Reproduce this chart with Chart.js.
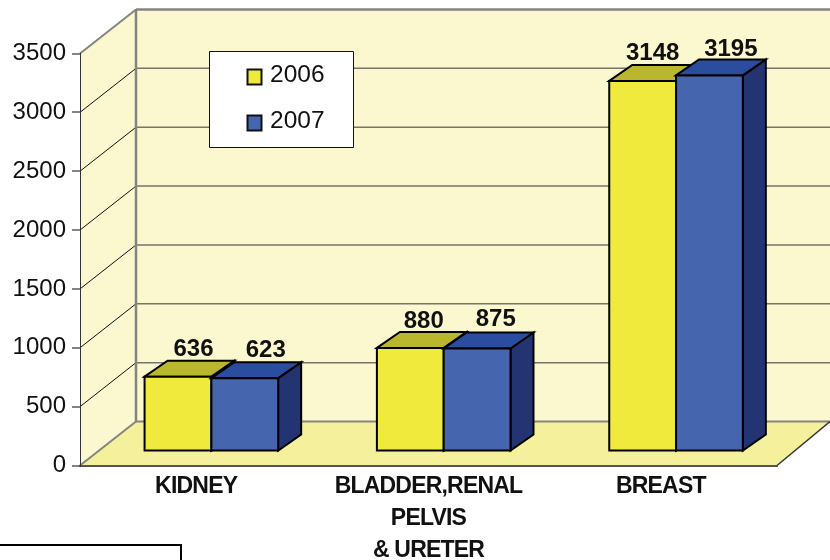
<!DOCTYPE html>
<html>
<head>
<meta charset="utf-8">
<title>Chart</title>
<style>
    html, body { margin: 0; padding: 0; background: #fff; }
    canvas { display: block; }
</style>
<script src="https://cdn.jsdelivr.net/npm/chart.js@4/dist/chart.umd.min.js"></script>
</head>
<body>
<canvas id="chart" width="830" height="560"></canvas>
<script>
// Data
const categories = ['KIDNEY', ['BLADDER,RENAL', 'PELVIS', '& URETER'], 'BREAST'];
const seriesNames = ['2006', '2007'];
const values2006 = [636, 880, 3148];
const values2007 = [623, 875, 3195];
const yTicks = [0, 500, 1000, 1500, 2000, 2500, 3000, 3500];

const FONT = '"Liberation Sans", Arial, sans-serif';
const TEXT = '#111111';
const GREY = '#85857f';

// fake 3D: how far the back wall and the bars sit from the axis plane
const WALL = { dx: 56, dy: 44 };
const SHIFT = { dx: 15.2, dy: 14 };
const DEPTH = { dx: 23, dy: 16 };

const faces = [
    { front: '#efea3c', top: '#b8b72e', side: '#b8b72e' },
    { front: '#4565ae', top: '#2b4da0', side: '#243473' }
];
// hand tweak of the value labels, per series and category
const labelNudgeX = [[15.5, 13.4, 10], [21, 18.7, 21.4]];
const labelNudgeY = [[0, 0.5, 0], [0, -1.7, 1.7]];

function poly(ctx, pts, fill, stroke, width) {
    ctx.beginPath();
    pts.forEach((p, i) => i ? ctx.lineTo(p[0], p[1]) : ctx.moveTo(p[0], p[1]));
    ctx.closePath();
    if (fill) {
        ctx.fillStyle = fill;
        ctx.fill();
    }
    if (stroke) {
        ctx.strokeStyle = stroke;
        ctx.lineWidth = width;
        ctx.stroke();
    }
}

function line(ctx, x1, y1, x2, y2, color, width) {
    ctx.beginPath();
    ctx.moveTo(x1, y1);
    ctx.lineTo(x2, y2);
    ctx.strokeStyle = color;
    ctx.lineWidth = width;
    ctx.stroke();
}

const box3d = {
    id: 'box3d',
    // the category labels in the picture are tightly set
    afterUpdate(chart) {
        const scale = chart.scales.x;
        if (scale.patched) return;
        const drawLabels = scale.drawLabels;
        scale.drawLabels = function (area) {
            chart.ctx.letterSpacing = '-0.8px';
            drawLabels.call(this, area);
            chart.ctx.letterSpacing = '0px';
        };
        scale.patched = true;
    },
    beforeDraw(chart) {
        const ctx = chart.ctx;
        const { left, right, top, bottom } = chart.chartArea;
        const y = chart.scales.y;
        const backX = left + WALL.dx;
        const backBottom = bottom - WALL.dy;
        const backTop = top - WALL.dy;

        ctx.save();
        poly(ctx, [[backX, backTop], [830, backTop], [830, backBottom], [backX, backBottom]], '#fbf7cf');
        poly(ctx, [[left, top], [backX, backTop], [backX, backBottom], [left, bottom]], '#fbf7cf');
        poly(ctx, [[left, bottom], [backX, backBottom], [830, backBottom], [right, bottom]], '#f4f09c');

        yTicks.forEach(v => {
            if (v === 0 || v === 3500) return;
            const py = y.getPixelForValue(v);
            line(ctx, backX, py - WALL.dy, 830, py - WALL.dy, '#75756a', 1.5);
            line(ctx, left, py, backX, py - WALL.dy, '#111111', 1);
        });

        line(ctx, backX, backTop, 830, backTop, GREY, 2.5);
        line(ctx, backX, backTop, backX, backBottom, GREY, 2.5);
        line(ctx, backX, backBottom, 830, backBottom, GREY, 2);
        line(ctx, left, top, backX, backTop, GREY, 2);
        line(ctx, left, bottom, backX, backBottom, GREY, 2);
        line(ctx, right, bottom, 830, backBottom, '#333333', 1.5);
        ctx.restore();
    },
    // yellow has to go down first so blue covers its side face
    beforeDatasetsDraw(chart) {
        const ctx = chart.ctx;
        [0, 1].forEach(i => {
            const meta = chart.getDatasetMeta(i);
            ctx.save();
            ctx.translate(SHIFT.dx, -SHIFT.dy);
            meta.data.forEach(bar => {
                const l = bar.x - bar.width / 2;
                const r = bar.x + bar.width / 2;
                poly(ctx, [[r, bar.y], [r + DEPTH.dx, bar.y - DEPTH.dy], [r + DEPTH.dx, bar.base - DEPTH.dy], [r, bar.base]],
                    faces[i].side, '#000', 2);
                poly(ctx, [[l, bar.y], [l + DEPTH.dx, bar.y - DEPTH.dy], [r + DEPTH.dx, bar.y - DEPTH.dy], [r, bar.y]],
                    faces[i].top, '#000', 2);
            });
            meta.controller.draw();
            // outline on the box edges so it meets the top and side faces
            meta.data.forEach(bar => {
                const l = bar.x - bar.width / 2;
                const r = bar.x + bar.width / 2;
                poly(ctx, [[l, bar.y], [r, bar.y], [r, bar.base], [l, bar.base]], null, '#000', 2);
            });
            ctx.restore();
        });
        return false;
    },
    afterDraw(chart) {
        const ctx = chart.ctx;
        ctx.save();

        // value labels
        ctx.font = 'bold 24px ' + FONT;
        ctx.fillStyle = TEXT;
        ctx.textAlign = 'center';
        ctx.textBaseline = 'middle';
        [0, 1].forEach(i => {
            chart.getDatasetMeta(i).data.forEach((bar, j) => {
                const v = chart.data.datasets[i].data[j];
                ctx.fillText(String(v), bar.x + SHIFT.dx + labelNudgeX[i][j], bar.y - SHIFT.dy - 27.5 + labelNudgeY[i][j]);
            });
        });

        // legend box
        poly(ctx, [[209.5, 51.5], [353.5, 51.5], [353.5, 147.5], [209.5, 147.5]], '#ffffff', '#111111', 1);
        ctx.font = '24.5px ' + FONT;
        ctx.textAlign = 'left';
        seriesNames.forEach((name, i) => {
            const cy = 77 + i * 46;
            poly(ctx, [[247.5, cy - 7.5], [261.5, cy - 7.5], [261.5, cy + 7.5], [247.5, cy + 7.5]], faces[i].front, '#111111', 2);
            ctx.fillStyle = TEXT;
            ctx.fillText(name, 270, cy - 1.5);
        });

        // corner of the box cropped at the bottom left
        ctx.beginPath();
        ctx.moveTo(0, 545);
        ctx.lineTo(181, 545);
        ctx.lineTo(181, 560);
        ctx.strokeStyle = '#000';
        ctx.lineWidth = 2;
        ctx.stroke();
        ctx.restore();
    }
};

new Chart(document.getElementById('chart').getContext('2d'), {
    type: 'bar',
    data: {
        labels: categories,
        datasets: seriesNames.map((name, i) => ({
            label: name,
            data: i === 0 ? values2006 : values2007,
            backgroundColor: faces[i].front,
            borderWidth: 0,
            categoryPercentage: 0.575,
            barPercentage: 1
        }))
    },
    options: {
        responsive: false,
        animation: false,
        layout: { padding: { top: 53.5, right: 53, bottom: 0, left: 0 } },
        plugins: {
            legend: { display: false },
            tooltip: { enabled: false }
        },
        scales: {
            x: {
                grid: { display: false, drawTicks: false },
                border: { color: '#555555', width: 2 },
                afterFit(scale) { scale.height = 94.5; },
                ticks: {
                    color: TEXT,
                    padding: 5,
                    maxRotation: 0,
                    autoSkip: false,
                    font: { family: FONT, size: 23, weight: 'bold', lineHeight: 1.4 }
                }
            },
            y: {
                min: 0,
                max: 3500,
                afterFit(scale) { scale.width = 80; },
                afterBuildTicks(scale) { scale.ticks = yTicks.map(v => ({ value: v })); },
                grid: { drawOnChartArea: false, drawTicks: true, tickLength: 8, color: GREY, lineWidth: 2 },
                border: { color: '#333333', width: 1 },
                ticks: {
                    color: TEXT,
                    padding: 6,
                    font: { family: FONT, size: 24 },
                    callback: v => String(v)
                }
            }
        }
    },
    plugins: [box3d]
});
</script>
</body>
</html>
